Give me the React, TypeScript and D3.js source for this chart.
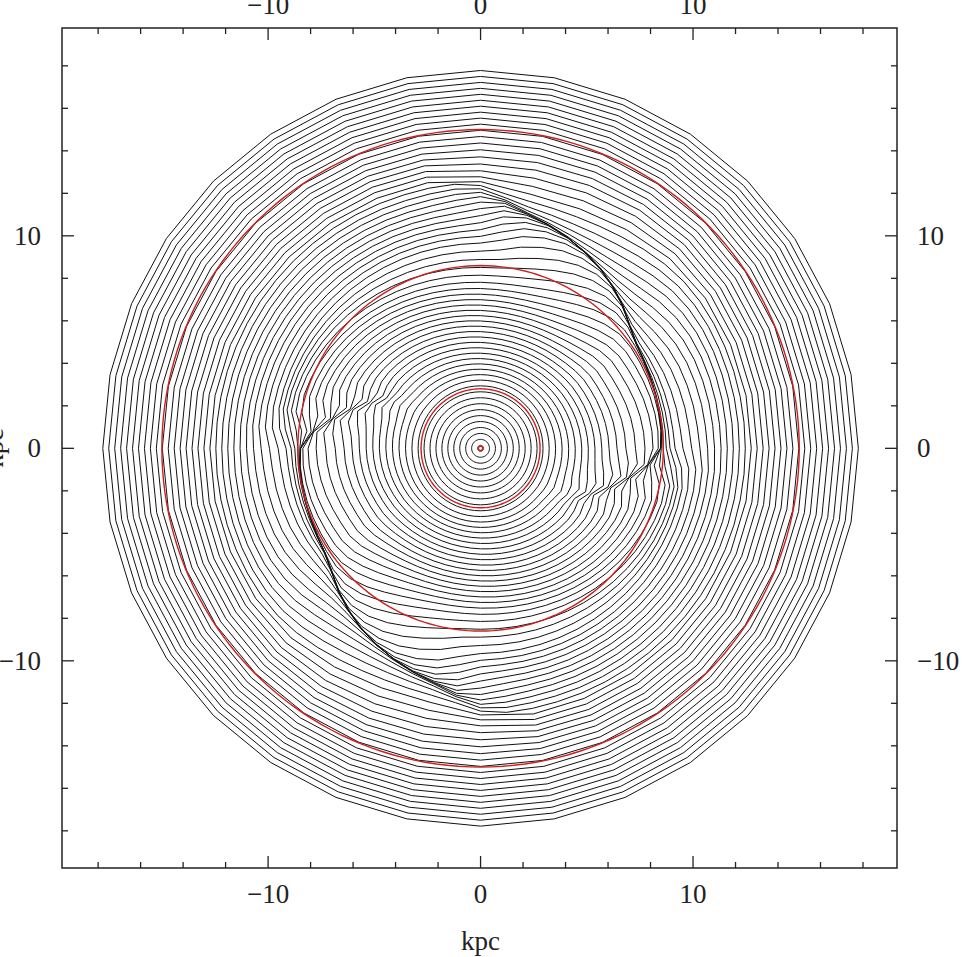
import React from "react";
import * as d3 from "d3";

const WIDTH = 969;
const HEIGHT = 957;
const FRAME = { left: 62, right: 897, top: 28, bottom: 868 };
const X_DOMAIN = [-19.7, 19.6];
const Y_DOMAIN = [-19.75, 19.78];
const MAJOR_TICKS = [-10, 0, 10];
const MINOR_TICKS = [-18, -16, -14, -12, -8, -6, -4, -2, 2, 4, 6, 8, 12, 14, 16, 18];
const TICK_LABELS = ["\u221210", "0", "10"];
const AXIS_TITLE = "kpc";
const RESONANCE_RADII = [0.1, 2.8, 8.6, 15.0];
const ORBIT_RADII = [
  0.14, 0.42, 0.7, 0.98, 1.26, 1.54, 1.82, 2.1, 2.38, 2.66, 2.94, 3.22, 3.5, 3.78, 4.06, 4.34,
  4.62, 4.9, 5.18, 5.46, 5.74, 6.02, 6.3, 6.58, 6.86, 7.14, 7.42, 7.7, 7.98, 8.26, 8.54, 8.82,
  9.1, 9.38, 9.66, 9.94, 10.22, 10.5, 10.78, 11.06, 11.34, 11.62, 11.9, 12.18, 12.46, 12.74,
  13.02, 13.3, 13.58, 13.86, 14.14, 14.42, 14.7, 14.98, 15.26, 15.54, 15.82, 16.1, 16.38,
  16.66, 16.94, 17.22, 17.5, 17.78,
];
// bar-like elongation of the orbits inside corotation
const OVAL_R = [0, 3, 4.5, 6, 7.5, 8.3, 9.0, 9.8, 18];
const OVAL_AMP = [0, 0, 0.15, 0.3, 0.45, 0.45, 0.25, 0, 0];
const OVAL_ANGLE = [-15, -15, -14, -12, -8, -5, -3, 0, 0];
// spiral arm (orbit crowding) along azimuth: radius, crowding strength, width
const ARM_ANGLE = [-60, -38, -30, -25, -18, -12, -8, -2.5, 1, 15, 26, 36, 47, 57, 69, 82, 88, 96, 105, 120];
const ARM_RADIUS = [4.0, 4.5, 4.8, 5.3, 6.2, 7.0, 7.6, 8.3, 8.5, 8.6, 8.7, 8.9, 9.6, 10.2, 10.8, 11.45, 12.1, 12.6, 13.0, 13.5];
const ARM_STRENGTH = [0, 0, 0.35, 0.65, 0.85, 0.95, 1.0, 1.05, 1.05, 1.05, 1.05, 1.08, 1.1, 1.1, 1.05, 0.85, 0.55, 0.2, 0, 0];
const ARM_WIDTH = [0.8, 0.8, 0.8, 0.85, 0.9, 1.0, 1.1, 1.2, 1.3, 1.4, 1.5, 1.7, 1.8, 1.8, 1.7, 1.5, 1.3, 1.2, 1.2, 1.2];
const OUTER_VERTICES = 32;
const INNER_VERTICES = 64;
const VERTEX_SWITCH_R = 12.5;

function smooth(xs: number[], ys: number[]) {
  const n = xs.length;
  const m: number[] = [];
  for (let i = 0; i < n; i++) {
    if (i === 0) m.push((ys[1] - ys[0]) / (xs[1] - xs[0]));
    else if (i === n - 1) m.push((ys[n - 1] - ys[n - 2]) / (xs[n - 1] - xs[n - 2]));
    else m.push((ys[i + 1] - ys[i - 1]) / (xs[i + 1] - xs[i - 1]));
  }
  return (x: number) => {
    if (x <= xs[0]) return ys[0];
    if (x >= xs[n - 1]) return ys[n - 1];
    const i = d3.bisectRight(xs, x) - 1;
    const h = xs[i + 1] - xs[i];
    const t = (x - xs[i]) / h;
    const t2 = t * t, t3 = t2 * t;
    return (2 * t3 - 3 * t2 + 1) * ys[i] + (t3 - 2 * t2 + t) * h * m[i] + (-2 * t3 + 3 * t2) * ys[i + 1] + (t3 - t2) * h * m[i + 1];
  };
}

export default function App() {
  const x = d3.scaleLinear().domain(X_DOMAIN).range([FRAME.left, FRAME.right]);
  const y = d3.scaleLinear().domain(Y_DOMAIN).range([FRAME.bottom, FRAME.top]);
  const armR = smooth(ARM_ANGLE, ARM_RADIUS);
  const armS = smooth(ARM_ANGLE, ARM_STRENGTH);
  const armW = smooth(ARM_ANGLE, ARM_WIDTH);
  const ovalA = smooth(OVAL_R, OVAL_AMP);
  const ovalP = smooth(OVAL_R, OVAL_ANGLE);
  const line = d3.line<[number, number]>().x((d) => x(d[0])).y((d) => y(d[1])).curve(d3.curveLinearClosed);

  const orbits = ORBIT_RADII.map((R) => {
    const A = Math.max(0, ovalA(R));
    const p0 = (ovalP(R) * Math.PI) / 180;
    const nv = R < VERTEX_SWITCH_R ? INNER_VERTICES : OUTER_VERTICES;
    const pts: [number, number][] = d3.range(nv).map((k) => {
      const deg = (360 * k) / nv;
      const phi = (deg * Math.PI) / 180;
      const r1 = R + A * Math.cos(2 * (phi - p0));
      const psi = ((((deg + 60) % 180) + 180) % 180) - 60;
      const s = Math.max(0, Math.min(1.15, armS(psi)));
      const w = armW(psi);
      const ra = armR(psi);
      const u = (r1 - ra) / w;
      const r = r1 - s * (r1 - ra) * Math.exp(-u * u);
      return [r * Math.cos(phi), r * Math.sin(phi)];
    });
    return line(pts) as string;
  });
  const circles = RESONANCE_RADII.map((R) =>
    line(d3.range(180).map((k) => {
      const phi = (2 * Math.PI * k) / 180;
      return [R * Math.cos(phi), R * Math.sin(phi)] as [number, number];
    })) as string
  );

  const font = "'Liberation Serif', 'DejaVu Serif', serif";
  const tickColor = "#222";
  return (
    <svg width={WIDTH} height={HEIGHT} style={{ position: "absolute", left: 0, top: 0, background: "#fff" }}>
      <rect x={0} y={0} width={WIDTH} height={HEIGHT} fill="#fff" />
      <g>
        {orbits.map((d, i) => (
          <path key={i} d={d} fill="none" stroke="#111" strokeWidth={1} />
        ))}
      </g>
      <g>
        {circles.map((d, i) => (
          <path key={i} d={d} fill="none" stroke="#cc2020" strokeWidth={1.4} />
        ))}
      </g>
      <rect x={FRAME.left} y={FRAME.top} width={FRAME.right - FRAME.left} height={FRAME.bottom - FRAME.top} fill="none" stroke={tickColor} strokeWidth={1.5} />
      <g stroke={tickColor} strokeWidth={1.3}>
        {[...MINOR_TICKS.map((v) => [v, 6]), ...MAJOR_TICKS.map((v) => [v, 12])].map(([v, len], i) => (
          <g key={i}>
            <line x1={x(v)} x2={x(v)} y1={FRAME.bottom} y2={FRAME.bottom - len} />
            <line x1={x(v)} x2={x(v)} y1={FRAME.top} y2={FRAME.top + len} />
            <line y1={y(v)} y2={y(v)} x1={FRAME.left} x2={FRAME.left + len} />
            <line y1={y(v)} y2={y(v)} x1={FRAME.right} x2={FRAME.right - len} />
          </g>
        ))}
      </g>
      <g fontFamily={font} fontSize={27} fill="#222">
        {MAJOR_TICKS.map((v, i) => (
          <g key={i}>
            <text x={x(v)} y={903} textAnchor="middle">{TICK_LABELS[i]}</text>
            <text x={x(v)} y={14} textAnchor="middle">{TICK_LABELS[i]}</text>
            <text x={41} y={y(v) + 9} textAnchor="end">{TICK_LABELS[i]}</text>
            <text x={917} y={y(v) + 9} textAnchor="start">{TICK_LABELS[i]}</text>
          </g>
        ))}
        <text x={x(0)} y={950} textAnchor="middle">{AXIS_TITLE}</text>
        <text transform={`translate(3, ${y(0)}) rotate(-90)`} textAnchor="middle">{AXIS_TITLE}</text>
      </g>
    </svg>
  );
}
